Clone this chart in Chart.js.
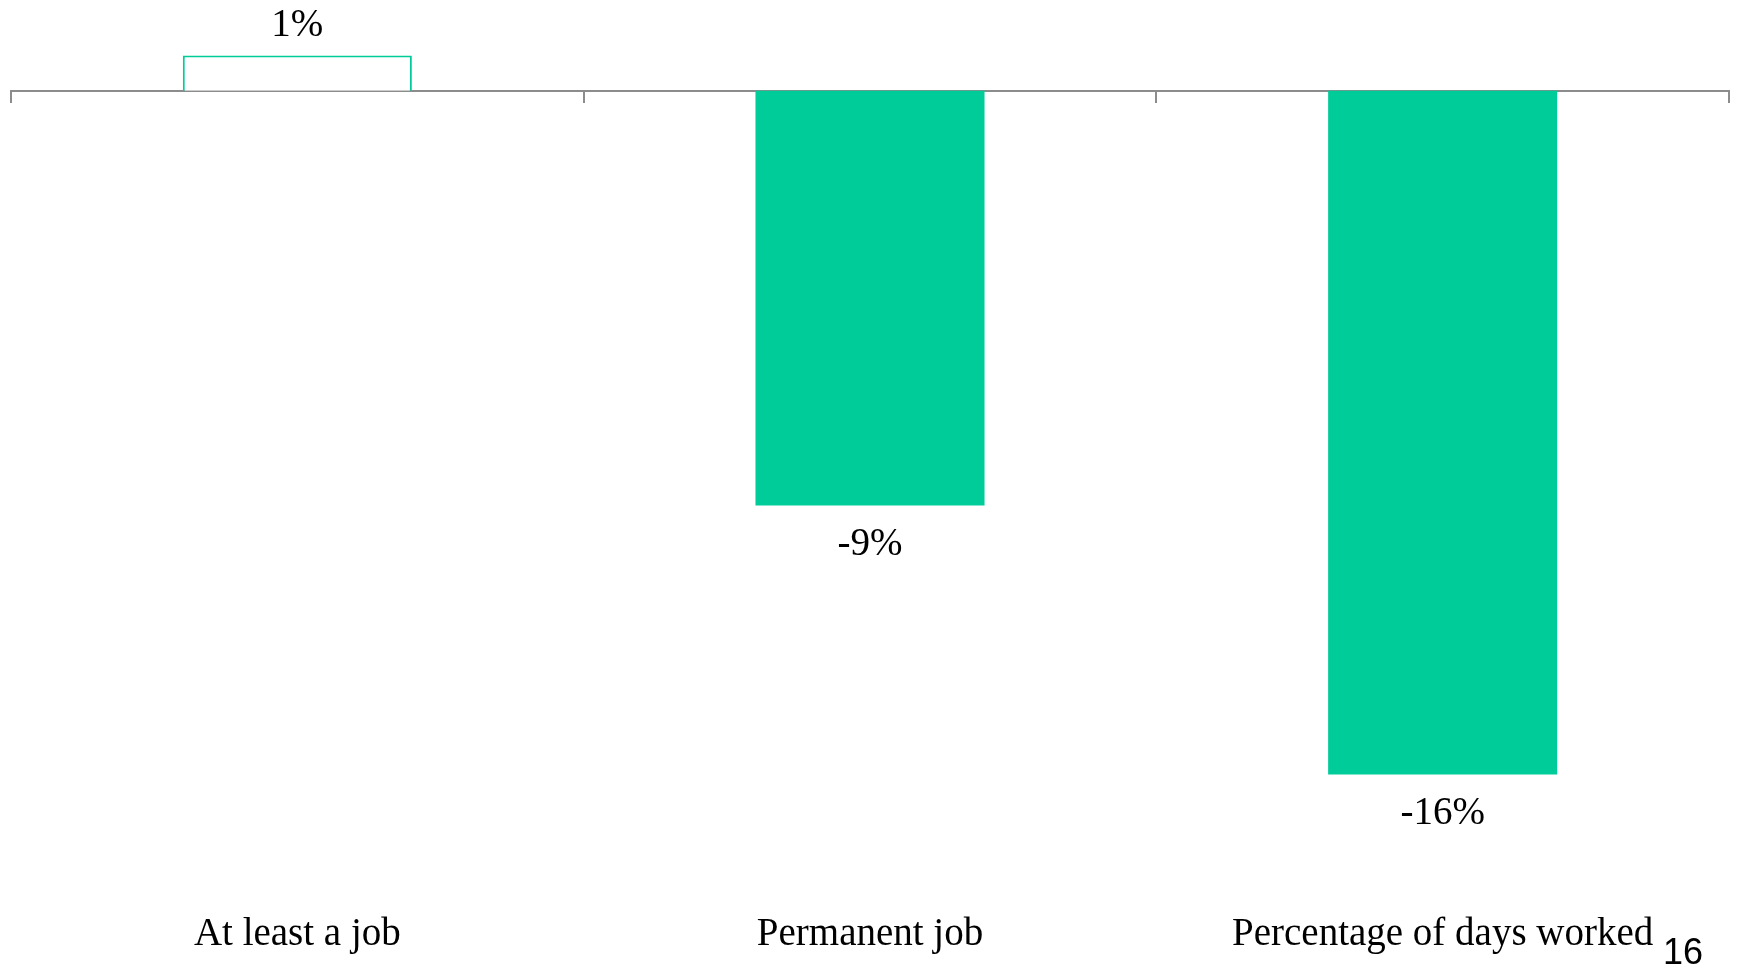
<!DOCTYPE html>
<html>
<head>
<meta charset="utf-8">
<script src="https://cdn.jsdelivr.net/npm/chart.js@4.4.0/dist/chart.umd.min.js"></script>
<style>
    html, body { margin: 0; padding: 0; background: #fff; }
    .chart-wrap { position: relative; width: 1740px; height: 969px; }
    .page-num { position: absolute; left: 1663px; top: 932px; font-family: "Liberation Sans", Arial, sans-serif; font-size: 36px; color: #000; line-height: 40px; }
</style>
</head>
<body>
<div class="chart-wrap">
    <canvas id="chart" width="1740" height="969"></canvas>
    <div class="page-num">16</div>
</div>
<script>
const categories = ['At least a job', 'Permanent job', 'Percentage of days worked'];
const values = [0.8, -9.4, -15.5];
const green = '#00CC99';
const serif = '"Liberation Serif", "Times New Roman", serif';

const valueLabels = {
    id: 'valueLabels',
    afterDatasetsDraw(chart) {
        const ctx = chart.ctx;
        const meta = chart.getDatasetMeta(0);
        ctx.save();
        ctx.font = '39px ' + serif;
        ctx.fillStyle = '#000';
        ctx.textAlign = 'center';
        ctx.textBaseline = 'middle';
        meta.data.forEach((bar, i) => {
            const v = values[i];
            const txt = v.toFixed(0) + '%';
            const y = v >= 0 ? bar.y - 30 : bar.y + 39;
            ctx.fillText(txt, bar.x, y);
        });
        ctx.restore();
    }
};

const ctx = document.getElementById('chart').getContext('2d');
new Chart(ctx, {
    type: 'bar',
    data: {
        labels: categories,
        datasets: [{
            data: values,
            backgroundColor: values.map(v => v >= 0 ? '#ffffff' : green),
            borderColor: green,
            borderWidth: values.map(v => v >= 0 ? 2 : 0),
            barPercentage: 0.4,
            categoryPercentage: 1
        }]
    },
    options: {
        responsive: false,
        animation: false,
        layout: { padding: { left: 11, right: 11, top: 0, bottom: 11 } },
        plugins: {
            legend: { display: false },
            tooltip: { enabled: false }
        },
        scales: {
            y: {
                display: false,
                min: -18.42,
                max: 2.06
            },
            x: {
                position: { y: 0 },
                grid: {
                    display: true,
                    offset: true,
                    drawOnChartArea: false,
                    drawTicks: true,
                    tickLength: 11,
                    color: '#8c8c8c',
                    lineWidth: 2
                },
                border: { display: true, color: '#8c8c8c', width: 2 },
                ticks: { display: false }
            },
            x2: {
                type: 'category',
                position: 'bottom',
                grid: { display: false },
                border: { display: false },
                ticks: {
                    padding: 0,
                    color: '#000',
                    maxRotation: 0,
                    font: { family: serif, size: 39 }
                }
            }
        }
    },
    plugins: [valueLabels]
});
</script>
</body>
</html>
